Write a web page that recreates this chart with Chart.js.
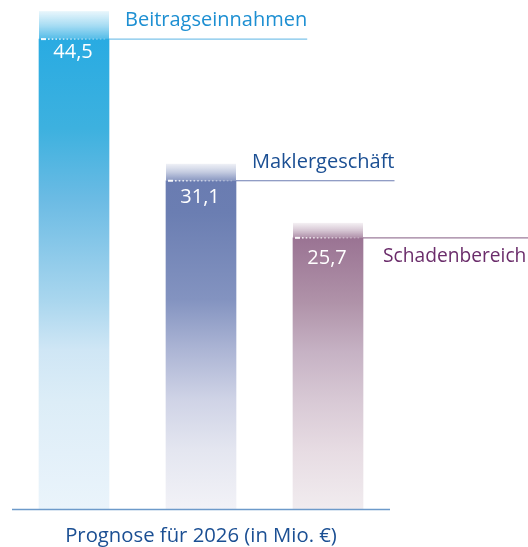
<!DOCTYPE html>
<html>
<head>
<meta charset="utf-8">
<script src="https://cdn.jsdelivr.net/npm/chart.js@4.4.1/dist/chart.umd.min.js"></script>
<style>
  html, body { margin: 0; padding: 0; background: #ffffff; }
  canvas { display: block; }
</style>
</head>
<body>
<canvas id="c" width="528" height="547"></canvas>
<script>
// ---- data ----
const categories = ["Beitragseinnahmen", "Maklergeschäft", "Schadenbereich"];
const values = [44.5, 31.1, 25.7];
const valueLabels = ["44,5", "31,1", "25,7"];
const chartTitle = "Prognose für 2026 (in Mio. €)";

// ---- styles ----
const FONT = '"Open Sans", "Noto Sans", sans-serif';
const barStops = [
  [[0, '#29abe2'], [0.19, '#3db1df'], [0.34, '#6bbbe4'], [0.555, '#a9d6ee'], [0.66, '#cfe6f5'], [0.77, '#dcedf7'], [0.88, '#e3f0f9'], [1, '#eaf4fb']],
  [[0, '#6a7cb1'], [0.1, '#6b7eb2'], [0.36, '#8393c0'], [0.51, '#abb4d4'], [0.665, '#cfd3e6'], [0.82, '#e4e6f0'], [1, '#f2f2f7']],
  [[0, '#9a7393'], [0.24, '#b093a9'], [0.42, '#c6b2c4'], [0.6, '#d8c9d5'], [0.785, '#e7dce3'], [1, '#f1ecef']]
];
const fadeRGB = ['41,171,226', '106,124,177', '154,115,147'];
const fadeLen = [28, 17, 15];
const labelColor = ['#1d8fd2', '#1b4f93', '#6b2d6b'];
const leaderColor = ['#7cc3ea', '#6c7db2', '#9c7c9b'];
const labelStyle = [
  { dx: 16, dy: -19, size: 20, lineToEdge: false },
  { dx: 16, dy: -18, size: 20, lineToEdge: false },
  { dx: 20, dy: 19, size: 19.2, lineToEdge: true }
];
const valueDy = [13, 17, 20];

const overlay = {
  id: 'overlay',
  afterDatasetsDraw(chart) {
    const ctx = chart.ctx;
    const area = chart.chartArea;
    const meta = chart.getDatasetMeta(0);
    ctx.save();
    // baseline
    ctx.strokeStyle = '#6d9aca';
    ctx.lineWidth = 1.5;
    ctx.beginPath();
    ctx.moveTo(area.left + 1.5, area.bottom);
    ctx.lineTo(area.right - 1.5, area.bottom);
    ctx.stroke();

    meta.data.forEach((bar, i) => {
      const left = bar.x - bar.width / 2;
      const right = bar.x + bar.width / 2;
      const y = bar.y;
      // top fade
      const g = ctx.createLinearGradient(0, y, 0, y - fadeLen[i]);
      g.addColorStop(0, `rgba(${fadeRGB[i]},0.8)`);
      g.addColorStop(0.5, `rgba(${fadeRGB[i]},0.4)`);
      g.addColorStop(1, `rgba(${fadeRGB[i]},0.1)`);
      ctx.fillStyle = g;
      ctx.fillRect(left, y - fadeLen[i], right - left, fadeLen[i]);
      // dotted marker
      ctx.fillStyle = 'rgba(255,255,255,0.95)';
      ctx.fillRect(left + 2, y - 1, 5, 2);
      let n = 0;
      for (let x = left + 9; x < right - 2; x += 3.7) {
        const a = Math.max(0.15, 0.85 - n * 0.04);
        ctx.fillStyle = `rgba(255,255,255,${a})`;
        ctx.fillRect(x, y - 0.8, 1.6, 1.6);
        n++;
      }
      // category label
      const st = labelStyle[i];
      ctx.font = `${st.size}px ${FONT}`;
      ctx.textBaseline = 'middle';
      ctx.textAlign = 'left';
      const tx = right + st.dx;
      const tw = ctx.measureText(categories[i]).width;
      ctx.fillStyle = labelColor[i];
      ctx.fillText(categories[i], tx, y + st.dy);
      // leader line
      ctx.strokeStyle = leaderColor[i];
      ctx.lineWidth = 1.2;
      ctx.beginPath();
      ctx.moveTo(right, y);
      ctx.lineTo(st.lineToEdge ? chart.width : tx + tw, y);
      ctx.stroke();
      // value label
      ctx.font = `20px ${FONT}`;
      ctx.textAlign = 'center';
      ctx.fillStyle = '#ffffff';
      ctx.fillText(valueLabels[i], bar.x - 1, y + valueDy[i]);
    });

    // title
    ctx.font = `20.3px ${FONT}`;
    ctx.textAlign = 'center';
    ctx.textBaseline = 'alphabetic';
    ctx.fillStyle = '#1b4f93';
    ctx.fillText(chartTitle, (area.left + area.right) / 2, area.bottom + 32);
    ctx.restore();
  }
};

new Chart(document.getElementById('c'), {
  type: 'bar',
  data: {
    labels: categories,
    datasets: [{
      data: values,
      borderWidth: 0,
      barThickness: 70,
      backgroundColor(context) {
        const chart = context.chart;
        const area = chart.chartArea;
        if (!area || !chart.scales.y) return `rgb(${fadeRGB[context.dataIndex] || '200,200,200'})`;
        const i = context.dataIndex;
        const top = chart.scales.y.getPixelForValue(values[i]);
        const g = chart.ctx.createLinearGradient(0, top, 0, area.bottom);
        barStops[i].forEach(s => g.addColorStop(s[0], s[1]));
        return g;
      }
    }]
  },
  options: {
    responsive: false,
    devicePixelRatio: 1,
    animation: false,
    layout: { padding: { left: 10.5, right: 136.5, top: 0, bottom: 37.5 } },
    plugins: { legend: { display: false }, tooltip: { enabled: false }, title: { display: false } },
    scales: {
      x: { display: false, categoryPercentage: 1, barPercentage: 1 },
      y: { display: false, min: 0, max: 48.2 }
    }
  },
  plugins: [overlay]
});
</script>
</body>
</html>
